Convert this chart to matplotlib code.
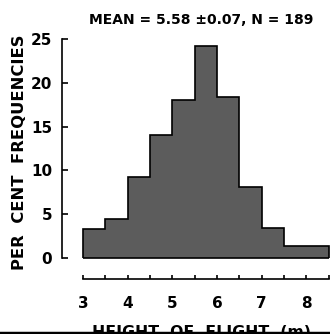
import matplotlib
matplotlib.use("Agg")
from matplotlib import pyplot as plt

# histogram of flight heights (per cent), bins of 0.5 m, last bin 1 m wide
bin_edges = [3.0, 3.5, 4.0, 4.5, 5.0, 5.5, 6.0, 6.5, 7.0, 7.5, 8.5]
percent = [3.3, 4.4, 9.2, 14.0, 18.0, 24.2, 18.4, 8.1, 3.4, 1.4]

x_major = [3, 4, 5, 6, 7, 8]
x_minor = [3.5, 4.5, 5.5, 6.5, 7.5, 8.5]
y_ticks = [0, 5, 10, 15, 20, 25]

title = "MEAN = 5.58 \u00b10.07, N = 189"
xlabel = "HEIGHT  OF  FLIGHT  (m)"
ylabel = "PER  CENT  FREQUENCIES"

W, H = 330, 334
fig = plt.figure(figsize=(W / 100, H / 100), dpi=100)
ax = fig.add_axes([62 / W, 55 / H, 268 / W, 240 / H])

# filled step outline, no lines between neighbouring bars
ax.stairs(percent, bin_edges, fill=True, color='#5c5c5c', baseline=0)
ax.stairs(percent, bin_edges, fill=False, color='black', lw=1.2, baseline=0)
ax.hlines(0, bin_edges[0], bin_edges[-1], color='black', lw=1.2)

ax.set_xlim(2.53, 8.53)
ax.set_ylim(-2.4, 25)

for side in ['top', 'right']:
    ax.spines[side].set_visible(False)
ax.spines['left'].set_bounds(0, 25)
ax.spines['bottom'].set_bounds(3, 8.5)
for side in ['left', 'bottom']:
    ax.spines[side].set_linewidth(1.2)

ax.set_yticks(y_ticks)
ax.set_yticklabels([str(v) for v in y_ticks], fontweight='bold', fontsize=11)
ax.tick_params(axis='y', direction='in', length=4, width=1.2, pad=7)

ax.set_xticks(x_major)
ax.set_xticks(x_minor, minor=True)
ax.set_xticklabels([str(v) for v in x_major], fontweight='bold', fontsize=11)
ax.tick_params(axis='x', which='both', direction='in', length=3, width=1.2, pad=12)

fig.text(201 / W, 1 - 20 / H, title, ha='center', va='center',
         fontsize=10, fontweight='bold')
fig.text(20 / W, 1 - 152 / H, ylabel, ha='center', va='center', rotation=90,
         fontsize=11.8, fontweight='bold')
fig.text(201 / W, 9 / H, xlabel, ha='center', va='top',
         fontsize=11.3, fontweight='bold')

# black border strip along the bottom edge of the scan
fig.add_artist(plt.Line2D([0, 1], [1.5 / H, 1.5 / H], color='black', lw=2.5,
                          transform=fig.transFigure))

fig.savefig("out.png", dpi=100)
